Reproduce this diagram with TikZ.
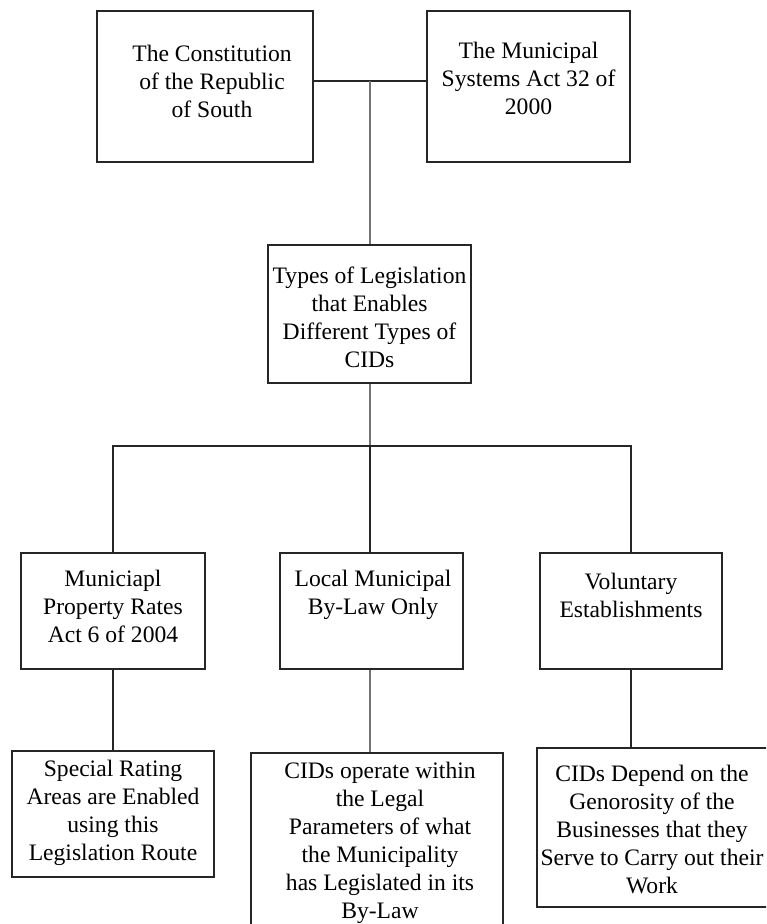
\documentclass[tikz,border=0pt]{standalone}
\usepackage{fontspec}
\setmainfont{Liberation Serif}
\usetikzlibrary{positioning,calc}

\begin{document}
\begin{tikzpicture}[
  x=0.5pt, y=-0.5pt,
  font=\fontsize{11.8pt}{14pt}\selectfont,
  box/.style={draw=black!85, line width=1pt, inner sep=0pt},
  txt/.style={align=center, inner sep=0pt},
  link/.style={draw=black!85, line width=1pt},
  soft/.style={draw=black!55, line width=1pt},
]
\clip (0,0) rectangle (766,924);
\fill[white] (0,0) rectangle (766,924);

% acts at the top
\node[box, minimum width=108pt, minimum height=75.5pt] (con) at (205,86.5) {};
\node[txt] (conT) at (212,81.5) {The Constitution\\of the Republic\\of South};
\node[box, minimum width=101.5pt, minimum height=75.5pt] (msa) at (528.5,86.5) {};
\node[txt] (msaT) at (528.5,78.5) {The Municipal\\Systems Act 32 of\\2000};
\coordinate (top) at (369.5,81);
\draw[link] (con.east |- top) -- (msa.west |- top);

% enabling legislation
\node[box, minimum width=101.5pt, minimum height=69pt] (types) at (369.5,314) {};
\node[txt] (typesT) at (369.5,317) {Types of Legislation\\that Enables\\Different Types of\\CIDs};
\draw[soft] (top) -- (types.north);

% three routes
\node[box, minimum width=92pt, minimum height=58pt] (rates) at (113,611) {};
\node[txt] (ratesT) at (113,606) {Municiapl\\Property Rates\\Act 6 of 2004};
\node[box, minimum width=91.5pt, minimum height=58pt] (bylaw) at (371.5,611) {};
\node[txt] (bylawT) at (373,595) {Local Municipal\\By-Law Only};
\node[box, minimum width=91pt, minimum height=58pt] (vol) at (631,611) {};
\node[txt] (volT) at (631,595) {Voluntary\\Establishments};
\coordinate (split) at (369.5,446);
\draw[soft] (types.south) -- (split);
\draw[link] (rates.north) |- (split) -| (vol.north);
\draw[link] (split) -- (split |- bylaw.north);

% outcomes
\node[box, minimum width=101pt, minimum height=63pt] (sra) at (113,814) {};
\node[txt] (sraT) at (113,813) {Special Rating\\Areas are Enabled\\using this\\Legislation Route};
\node[box, minimum width=126pt, minimum height=92pt] (legal) at (377,845) {};
\node[txt] (legalT) at (380,843) {CIDs operate within\\the Legal\\Parameters of what\\the Municipality\\has Legislated in its\\By-Law};
\node[box, minimum width=116.5pt, minimum height=79.5pt] (dep) at (653.5,827.5) {};
\node[txt] (depT) at (652,829) {CIDs Depend on the\\Genorosity of the\\Businesses that they\\Serve to Carry out their\\Work};
\draw[link] (rates.south) -- (sra.north);
\draw[soft] (split |- bylaw.south) -- (split |- legal.north);
\draw[link] (vol.south) -- (vol.south |- dep.north);
\end{tikzpicture}
\end{document}
